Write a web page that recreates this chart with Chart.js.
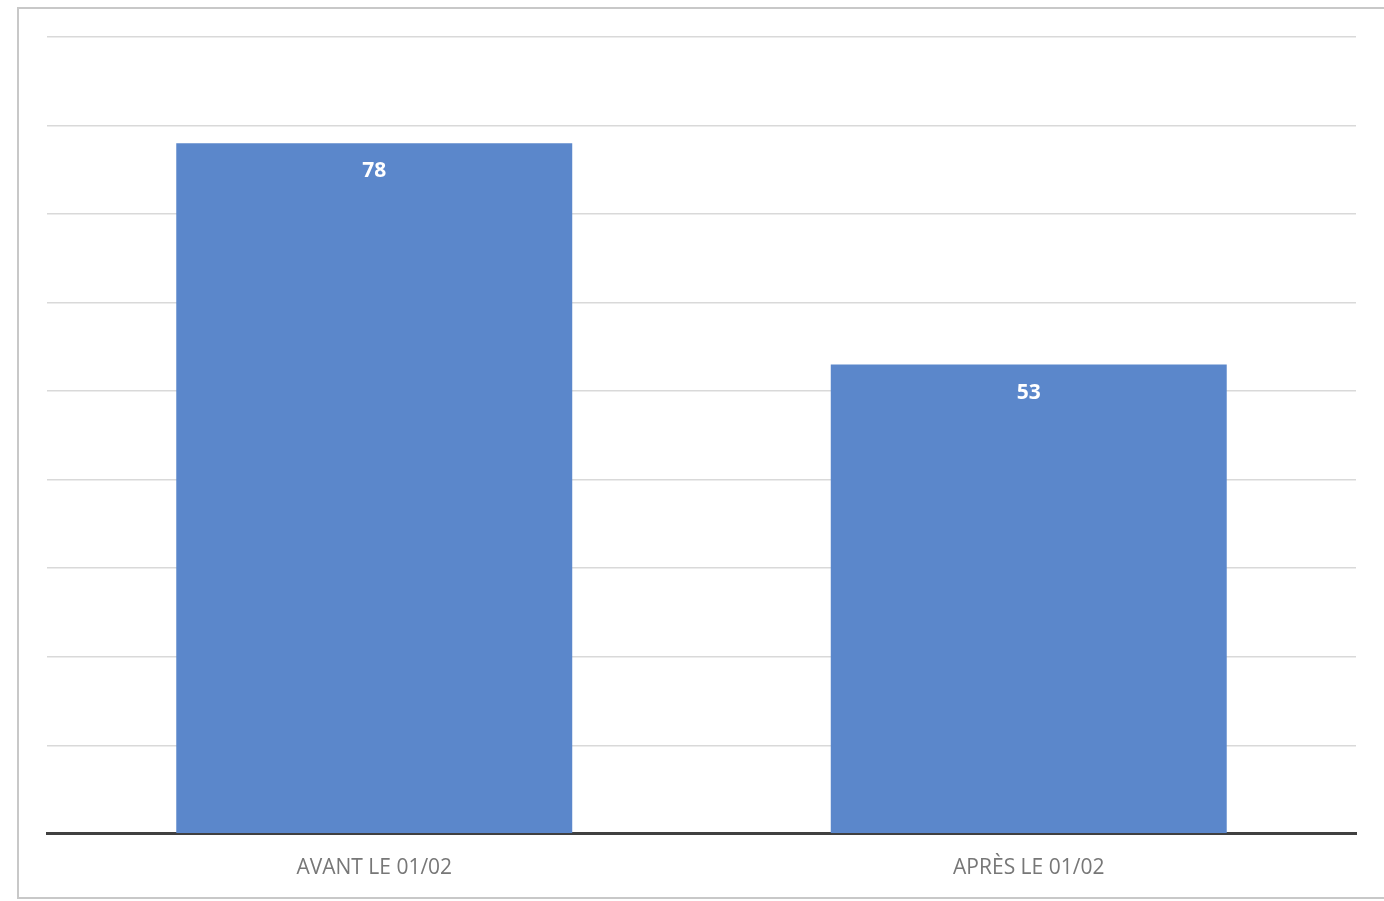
<!DOCTYPE html>
<html>
<head>
<meta charset="utf-8">
<script src="https://cdn.jsdelivr.net/npm/chart.js@4"></script>
<style>
  html, body { margin: 0; padding: 0; background: #fff; overflow: hidden; }
  #frame { position: absolute; left: 17px; top: 7px; width: 1400px; height: 888px; border: 2px solid #c8c8c8; }
  #wrap { position: absolute; left: 0; top: 0; width: 1384px; height: 910px; }
</style>
</head>
<body>
<div id="frame"></div>
<div id="wrap"><canvas id="chart"></canvas></div>
<script>
// categories and values
const categories = ["AVANT LE 01/02", "APRÈS LE 01/02"];
const values = [78, 53];
const yMax = 90;
const yStep = 10;

// white bold value inside the top of each bar
const barLabels = {
  id: "barLabels",
  afterDatasetsDraw(chart) {
    const ctx = chart.ctx;
    const meta = chart.getDatasetMeta(0);
    ctx.save();
    ctx.fillStyle = "#ffffff";
    ctx.font = "bold 21px 'Open Sans'";
    ctx.textAlign = "center";
    ctx.textBaseline = "middle";
    meta.data.forEach((bar, i) => {
      ctx.fillText(String(values[i]), bar.x, bar.y + 28);
    });
    ctx.restore();
  },
};

const canvas = document.querySelector("#chart");
const chart = new Chart(canvas.getContext("2d"), {
  type: "bar",
  data: {
    labels: categories,
    datasets: [
      {
        data: values,
        backgroundColor: "#5b87cb",
        borderWidth: 0,
        categoryPercentage: 1,
        barPercentage: 0.605,
      },
    ],
  },
  options: {
    responsive: true,
    maintainAspectRatio: false,
    animation: false,
    layout: { padding: { left: 47, right: 28, top: 37, bottom: 7 } },
    scales: {
      x: {
        grid: { display: false, drawTicks: false },
        border: { display: true, color: "#404040", width: 3 },
        ticks: {
          padding: 22,
          color: "#777777",
          font: { family: "'Open Sans'", size: 21 },
        },
      },
      y: {
        min: 0,
        max: yMax,
        ticks: { display: false, stepSize: yStep },
        grid: { color: "#d9d9d9", lineWidth: 1.5, drawTicks: false },
        border: { display: false },
      },
    },
    plugins: {
      legend: { display: false },
      tooltip: { enabled: false },
    },
  },
  plugins: [barLabels],
});
</script>
</body>
</html>
